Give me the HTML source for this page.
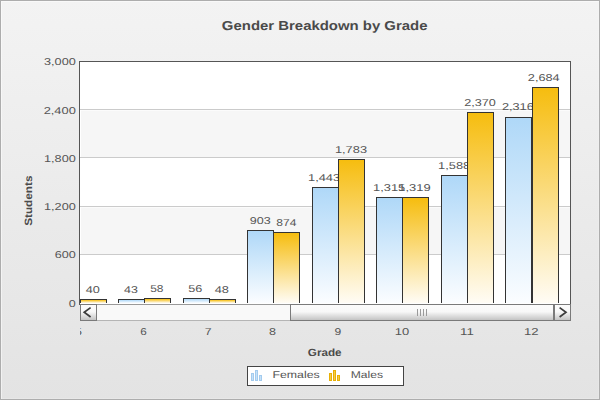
<!DOCTYPE html>
<html><head><meta charset="utf-8"><title>Gender Breakdown by Grade</title>
<style>html,body{margin:0;padding:0;width:600px;height:400px;overflow:hidden;background:#ececec;font-family:"Liberation Sans", sans-serif;}
svg text{shape-rendering:auto;text-rendering:geometricPrecision;}</style></head>
<body><svg width="600" height="400" viewBox="0 0 600 400" style="display:block;font-family:'Liberation Sans', sans-serif" shape-rendering="crispEdges"><defs>
<linearGradient id="bg" x1="0" y1="0" x2="0" y2="1"><stop offset="0" stop-color="#f3f3f3"/><stop offset="1" stop-color="#e3e3e3"/></linearGradient>
<linearGradient id="gf" x1="0" y1="0" x2="0" y2="1"><stop offset="0" stop-color="#afd8f8"/><stop offset="1" stop-color="#fbfdff"/></linearGradient>
<linearGradient id="gm" x1="0" y1="0" x2="0" y2="1"><stop offset="0" stop-color="#f6bd0f"/><stop offset="1" stop-color="#fffcf5"/></linearGradient>
<linearGradient id="gb" x1="0" y1="0" x2="0" y2="1"><stop offset="0" stop-color="#fbfbfb"/><stop offset="0.45" stop-color="#f8f8f8"/><stop offset="1" stop-color="#c4c4c4"/></linearGradient>
<clipPath id="plotclip"><rect x="80" y="0" width="490" height="303"/></clipPath>
<clipPath id="xclip"><rect x="80" y="321" width="491" height="30"/></clipPath>
</defs><rect x="0" y="0" width="600" height="400" fill="url(#bg)"/><rect x="0.5" y="0.5" width="599" height="399" fill="none" stroke="#adadad"/><rect x="1" y="1" width="598" height="1" fill="#ffffff" fill-opacity="0.5"/><rect x="1" y="2" width="1" height="397" fill="#ffffff" fill-opacity="0.5"/><rect x="2" y="398" width="597" height="1" fill="#ffffff" fill-opacity="0.15"/><rect x="598" y="2" width="1" height="396" fill="#ffffff" fill-opacity="0.15"/><rect x="80" y="62" width="490" height="242" fill="#ffffff"/><rect x="81" y="110" width="489" height="47" fill="#f6f6f6"/><rect x="81" y="110" width="489" height="1" fill="#fbfbfb"/><rect x="81" y="207" width="489" height="47" fill="#f6f6f6"/><rect x="81" y="207" width="489" height="1" fill="#fbfbfb"/><rect x="80" y="109" width="490" height="1" fill="#cbcbcb"/><rect x="80" y="157" width="490" height="1" fill="#cbcbcb"/><rect x="80" y="206" width="490" height="1" fill="#cbcbcb"/><rect x="80" y="254" width="490" height="1" fill="#cbcbcb"/><rect x="79" y="61" width="492" height="1" fill="#555555"/><rect x="79" y="61" width="1" height="244" fill="#555555"/><rect x="570" y="61" width="1" height="244" fill="#555555"/><g clip-path="url(#plotclip)"><rect x="118" y="299" width="27" height="4" fill="#333333"/><rect x="119" y="300" width="25" height="3" fill="url(#gf)"/><rect x="183" y="298" width="27" height="5" fill="#333333"/><rect x="184" y="299" width="25" height="4" fill="url(#gf)"/><rect x="247" y="230" width="27" height="73" fill="#333333"/><rect x="248" y="231" width="25" height="72" fill="url(#gf)"/><rect x="312" y="187" width="27" height="116" fill="#333333"/><rect x="313" y="188" width="25" height="115" fill="url(#gf)"/><rect x="376" y="197" width="27" height="106" fill="#333333"/><rect x="377" y="198" width="25" height="105" fill="url(#gf)"/><rect x="441" y="175" width="27" height="128" fill="#333333"/><rect x="442" y="176" width="25" height="127" fill="url(#gf)"/><rect x="505" y="117" width="27" height="186" fill="#333333"/><rect x="506" y="118" width="25" height="185" fill="url(#gf)"/><text x="124.01" y="293" font-size="10" font-weight="normal" fill="#555555" textLength="13.83" lengthAdjust="spacingAndGlyphs">43</text><text x="188.19" y="292" font-size="10" font-weight="normal" fill="#555555" textLength="14.06" lengthAdjust="spacingAndGlyphs">56</text><text x="249.71" y="224" font-size="10" font-weight="normal" fill="#555555" textLength="20.94" lengthAdjust="spacingAndGlyphs">903</text><text x="308.02" y="181" font-size="10" font-weight="normal" fill="#555555" textLength="32.14" lengthAdjust="spacingAndGlyphs">1,443</text><text x="373.12" y="191" font-size="10" font-weight="normal" fill="#555555" textLength="32.12" lengthAdjust="spacingAndGlyphs">1,315</text><text x="438.12" y="169" font-size="10" font-weight="normal" fill="#555555" textLength="32.14" lengthAdjust="spacingAndGlyphs">1,588</text><text x="501.96" y="110" font-size="10" font-weight="normal" fill="#555555" textLength="31.80" lengthAdjust="spacingAndGlyphs">2,316</text><rect x="80" y="299" width="27" height="4" fill="#333333"/><rect x="81" y="300" width="25" height="3" fill="url(#gm)"/><rect x="144" y="298" width="27" height="5" fill="#333333"/><rect x="145" y="299" width="25" height="4" fill="url(#gm)"/><rect x="209" y="299" width="27" height="4" fill="#333333"/><rect x="210" y="300" width="25" height="3" fill="url(#gm)"/><rect x="273" y="232" width="27" height="71" fill="#333333"/><rect x="274" y="233" width="25" height="70" fill="url(#gm)"/><rect x="338" y="159" width="27" height="144" fill="#333333"/><rect x="339" y="160" width="25" height="143" fill="url(#gm)"/><rect x="402" y="197" width="27" height="106" fill="#333333"/><rect x="403" y="198" width="25" height="105" fill="url(#gm)"/><rect x="467" y="112" width="27" height="191" fill="#333333"/><rect x="468" y="113" width="25" height="190" fill="url(#gm)"/><rect x="532" y="87" width="27" height="216" fill="#333333"/><rect x="533" y="88" width="25" height="215" fill="url(#gm)"/><text x="85.71" y="293" font-size="10" font-weight="normal" fill="#555555" textLength="14.09" lengthAdjust="spacingAndGlyphs">40</text><text x="150.22" y="292" font-size="10" font-weight="normal" fill="#555555" textLength="13.30" lengthAdjust="spacingAndGlyphs">58</text><text x="214.71" y="293" font-size="10" font-weight="normal" fill="#555555" textLength="14.25" lengthAdjust="spacingAndGlyphs">48</text><text x="276.28" y="226" font-size="10" font-weight="normal" fill="#555555" textLength="20.08" lengthAdjust="spacingAndGlyphs">874</text><text x="334.92" y="153" font-size="10" font-weight="normal" fill="#555555" textLength="32.14" lengthAdjust="spacingAndGlyphs">1,783</text><text x="398.31" y="191" font-size="10" font-weight="normal" fill="#555555" textLength="32.40" lengthAdjust="spacingAndGlyphs">1,319</text><text x="464.16" y="106" font-size="10" font-weight="normal" fill="#555555" textLength="31.63" lengthAdjust="spacingAndGlyphs">2,370</text><text x="527.86" y="81" font-size="10" font-weight="normal" fill="#555555" textLength="31.81" lengthAdjust="spacingAndGlyphs">2,684</text></g><text x="44.02" y="65" font-size="10" font-weight="normal" fill="#555555" textLength="31.78" lengthAdjust="spacingAndGlyphs">3,000</text><text x="43.65" y="114" font-size="10" font-weight="normal" fill="#555555" textLength="32.15" lengthAdjust="spacingAndGlyphs">2,400</text><text x="44.03" y="162.2" font-size="10" font-weight="normal" fill="#555555" textLength="31.76" lengthAdjust="spacingAndGlyphs">1,800</text><text x="44.03" y="210.2" font-size="10" font-weight="normal" fill="#555555" textLength="31.76" lengthAdjust="spacingAndGlyphs">1,200</text><text x="54.76" y="258.1" font-size="10" font-weight="normal" fill="#555555" textLength="21.03" lengthAdjust="spacingAndGlyphs">600</text><text x="68.81" y="307" font-size="10" font-weight="normal" fill="#555555" textLength="6.98" lengthAdjust="spacingAndGlyphs">0</text><rect x="80" y="304" width="491" height="17" fill="#999999"/><rect x="81" y="305" width="489" height="15" fill="#f9f9f9"/><rect x="80" y="320" width="491" height="1" fill="#b5b5b5"/><rect x="80" y="304" width="17" height="17" fill="#7a7a7a"/><rect x="81" y="305" width="15" height="15" fill="url(#gb)"/><rect x="290" y="304" width="264" height="17" fill="#7a7a7a"/><rect x="291" y="305" width="262" height="15" fill="url(#gb)"/><rect x="554" y="304" width="17" height="17" fill="#7a7a7a"/><rect x="555" y="305" width="15" height="15" fill="url(#gb)"/><rect x="417" y="309" width="1" height="7" fill="#9a9a9a"/><rect x="420" y="309" width="1" height="7" fill="#9a9a9a"/><rect x="423" y="309" width="1" height="7" fill="#9a9a9a"/><rect x="426" y="309" width="1" height="7" fill="#9a9a9a"/><path d="M90.6 307.6 L84.2 312.3 L90.6 317" fill="none" stroke="#3c3c3c" stroke-width="1.7" shape-rendering="geometricPrecision"/><path d="M559.6 307.6 L566 312.3 L559.6 317" fill="none" stroke="#3c3c3c" stroke-width="1.7" shape-rendering="geometricPrecision"/><g clip-path="url(#xclip)"><text x="74.90" y="335" font-size="10" font-weight="normal" fill="#555555" textLength="6.92" lengthAdjust="spacingAndGlyphs">5</text><text x="140.31" y="335" font-size="10" font-weight="normal" fill="#555555" textLength="6.51" lengthAdjust="spacingAndGlyphs">6</text><text x="204.67" y="335" font-size="10" font-weight="normal" fill="#555555" textLength="6.85" lengthAdjust="spacingAndGlyphs">7</text><text x="269.05" y="335" font-size="10" font-weight="normal" fill="#555555" textLength="6.99" lengthAdjust="spacingAndGlyphs">8</text><text x="334.43" y="335" font-size="10" font-weight="normal" fill="#555555" textLength="6.74" lengthAdjust="spacingAndGlyphs">9</text><text x="394.71" y="335" font-size="10" font-weight="normal" fill="#555555" textLength="14.39" lengthAdjust="spacingAndGlyphs">10</text><text x="460.06" y="335" font-size="10" font-weight="normal" fill="#555555" textLength="13.74" lengthAdjust="spacingAndGlyphs">11</text><text x="523.90" y="335" font-size="10" font-weight="normal" fill="#555555" textLength="14.55" lengthAdjust="spacingAndGlyphs">12</text></g><text x="307.82" y="356" font-size="10.5" font-weight="bold" fill="#4a4a4a" textLength="33.83" lengthAdjust="spacingAndGlyphs">Grade</text><g transform="translate(32 0) rotate(-90)"><text x="-225.84" y="0" font-size="10.5" font-weight="bold" fill="#4a4a4a" textLength="50.32" lengthAdjust="spacingAndGlyphs">Students</text></g><text x="221.89" y="30" font-size="13" font-weight="bold" fill="#4a4a4a" textLength="205.62" lengthAdjust="spacingAndGlyphs">Gender Breakdown by Grade</text><rect x="247" y="366" width="157" height="20" fill="#444444"/><rect x="248" y="367" width="155" height="18" fill="#ffffff"/><rect x="251" y="373" width="3" height="8" fill="#a3cbee"/><rect x="252" y="374" width="1" height="6" fill="#c6e2f9"/><rect x="255" y="370" width="3" height="11" fill="#a3cbee"/><rect x="256" y="371" width="1" height="9" fill="#c6e2f9"/><rect x="259" y="375" width="3" height="6" fill="#a3cbee"/><rect x="260" y="376" width="1" height="4" fill="#c6e2f9"/><rect x="329" y="373" width="3" height="8" fill="#e8b006"/><rect x="330" y="374" width="1" height="6" fill="#f6cb45"/><rect x="333" y="370" width="3" height="11" fill="#e8b006"/><rect x="334" y="371" width="1" height="9" fill="#f6cb45"/><rect x="337" y="375" width="3" height="6" fill="#e8b006"/><rect x="338" y="376" width="1" height="4" fill="#f6cb45"/><text x="272.49" y="378" font-size="10" font-weight="normal" fill="#555555" textLength="47.26" lengthAdjust="spacingAndGlyphs">Females</text><text x="350.71" y="378" font-size="10" font-weight="normal" fill="#555555" textLength="32.33" lengthAdjust="spacingAndGlyphs">Males</text></svg></body></html>
